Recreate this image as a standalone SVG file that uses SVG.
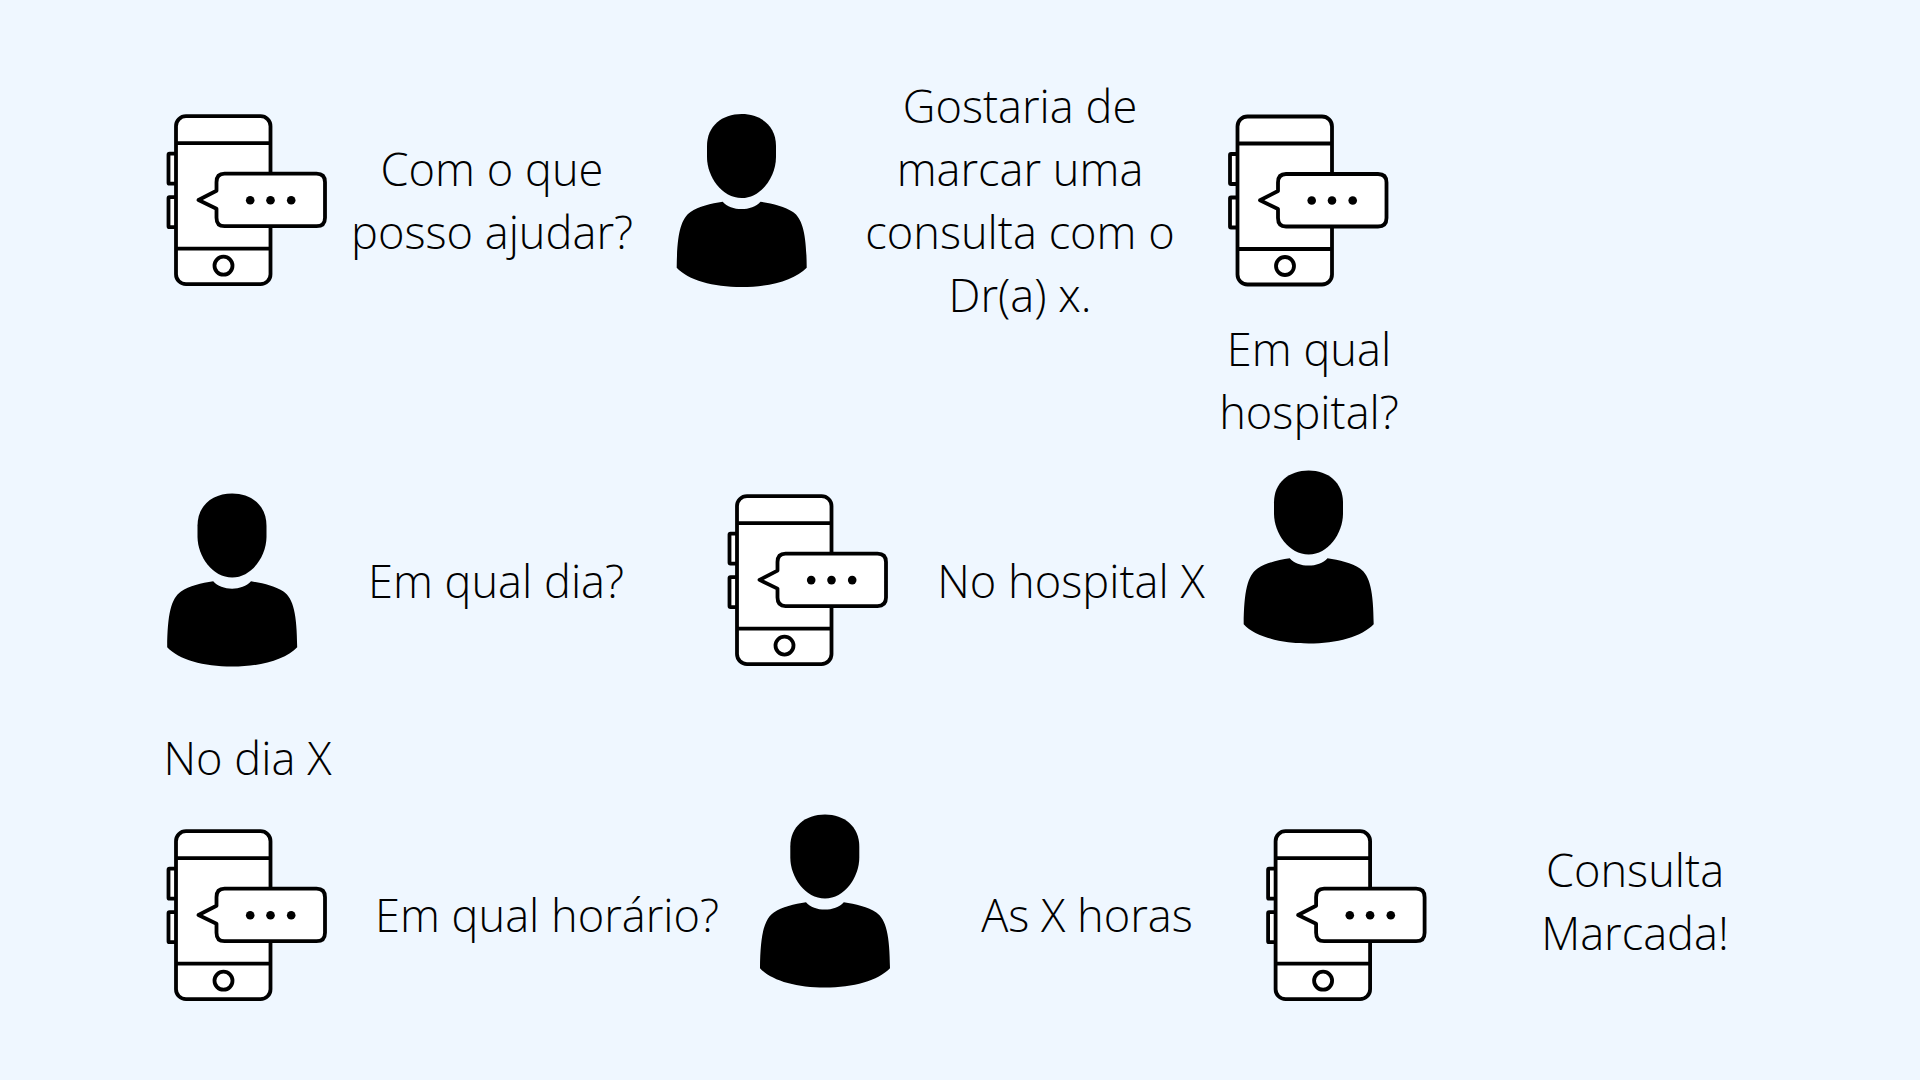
<svg xmlns="http://www.w3.org/2000/svg" width="1920" height="1080" viewBox="0 0 1920 1080">
<style>
.t{font-family:"Open Sans","Liberation Sans",sans-serif;font-weight:300;font-size:45.2px;fill:#000;text-anchor:middle}
.o{fill:#fff;stroke:#000;stroke-width:3.8;stroke-linejoin:round;stroke-linecap:round}
.n{fill:none;stroke:#000;stroke-width:3.8}
</style>
<defs>
<g id="phone">
<rect class="o" x="169" y="154" width="10" height="30" rx="1"/>
<rect class="o" x="169" y="197.500" width="10" height="30" rx="1"/>
<rect class="o" x="176.500" y="116.500" width="94.500" height="168" rx="10"/>
<path class="n" d="M176.500 143.500H271M176.500 249H271"/>
<circle class="o" cx="224" cy="266" r="9"/>
<path class="o" d="M225 174H317Q325.500 174 325.500 182.500V218Q325.500 226.500 317 226.500H225Q217 226.500 217 218V209L199 200.300L217 191V182.500Q217 174 225 174Z"/>
<circle cx="250.700" cy="200.500" r="4.300"/><circle cx="271" cy="200.500" r="4.300"/><circle cx="291.700" cy="200.500" r="4.300"/>
</g>
<g id="person">
<path d="M741.700 114C722 114 707 126 707 146V157C707 177 722 198 741.700 198C761 198 776 177 776 157V146C776 126 761 114 741.700 114Z"/>
<path d="M722.700 201.700C731 211.500 752 211.500 760.500 201.700C772 203.500 785 206.500 793 212C803 219 806.500 235 806.700 267.700C795 280 770 287 741.700 287C713 287 688 280 676.700 267.700C677 235 680.500 219 690.500 212C698.500 206.500 711 203.500 722.700 201.700Z"/>
</g>
</defs>
<rect width="1920" height="1080" fill="#EFF7FF"/>
<g id="connectors"/>
<g id="phone1"><use href="#phone" x="-0.500" y="-0.300"/></g>
<g id="person1"><use href="#person"/></g>
<g id="phone2"><use href="#phone" x="1061"/></g>
<g id="person2"><use href="#person" x="567" y="356.500"/></g>
<g id="phone3"><use href="#phone" x="560.500" y="379.600"/></g>
<g id="person3"><use href="#person" x="-509.500" y="379.600"/></g>
<g id="phone4"><use href="#phone" x="-0.500" y="714.700"/></g>
<g id="person4"><use href="#person" x="83.300" y="700.500"/></g>
<g id="phone5"><use href="#phone" x="1099.100" y="714.700"/></g>
<g id="text1"><text class="t" x="492" y="186">Com o que</text><text class="t" x="492" y="249">posso ajudar?</text></g>
<g id="text2"><text class="t" x="1020" y="123">Gostaria de</text><text class="t" x="1020" y="186">marcar uma</text><text class="t" x="1020" y="249">consulta com o</text><text class="t" x="1020" y="312">Dr(a) x.</text></g>
<g id="text3"><text class="t" x="1309" y="366">Em qual</text><text class="t" x="1309" y="429">hospital?</text></g>
<g id="text4"><text class="t" x="1071" y="598">No hospital X</text></g>
<g id="text5"><text class="t" x="496" y="598">Em qual dia?</text></g>
<g id="text6"><text class="t" x="247.500" y="775">No dia X</text></g>
<g id="text7"><text class="t" x="547" y="932">Em qual horário?</text></g>
<g id="text8"><text class="t" x="1087" y="932">As X horas</text></g>
<g id="text9"><text class="t" x="1635" y="887">Consulta</text><text class="t" x="1635" y="950">Marcada!</text></g>
</svg>
